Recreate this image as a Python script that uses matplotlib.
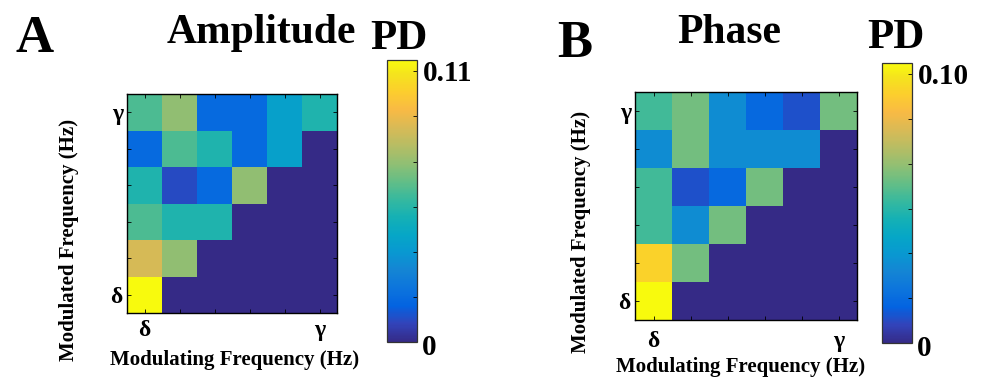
import numpy as np
import matplotlib
matplotlib.use('Agg')
import matplotlib.pyplot as plt
from matplotlib.colors import LinearSegmentedColormap

plt.rcParams['font.family'] = ['Liberation Serif', 'DejaVu Serif']
plt.rcParams['font.weight'] = 'bold'

# phase-amplitude coupling PD values
# rows: modulated frequency delta (bottom) -> gamma (top)
# cols: modulating frequency delta -> gamma
amp_max = 0.11
amp_pd = [
    [0.110, 0.000, 0.000, 0.000, 0.000, 0.000],
    [0.083, 0.070, 0.000, 0.000, 0.000, 0.000],
    [0.059, 0.051, 0.051, 0.000, 0.000, 0.000],
    [0.051, 0.009, 0.017, 0.070, 0.000, 0.000],
    [0.017, 0.059, 0.051, 0.017, 0.039, 0.000],
    [0.059, 0.070, 0.017, 0.017, 0.039, 0.051],
]

phase_max = 0.10
phase_pd = [
    [0.100, 0.000, 0.000, 0.000, 0.000, 0.000],
    [0.090, 0.059, 0.000, 0.000, 0.000, 0.000],
    [0.052, 0.028, 0.059, 0.000, 0.000, 0.000],
    [0.052, 0.009, 0.015, 0.059, 0.000, 0.000],
    [0.028, 0.059, 0.028, 0.028, 0.028, 0.000],
    [0.052, 0.059, 0.028, 0.015, 0.009, 0.059],
]

freq_labels = ['\u03b4', '', '', '', '', '\u03b3']

# parula-like colormap
parula_pts = [
    (0, (0.2081, 0.1663, 0.5292)),
    (4, (0.1959, 0.2645, 0.7279)),
    (8, (0.0117, 0.3875, 0.8820)),
    (12, (0.0498, 0.4586, 0.8641)),
    (16, (0.0793, 0.5200, 0.8312)),
    (20, (0.0343, 0.5966, 0.8199)),
    (24, (0.0228, 0.6535, 0.7768)),
    (28, (0.0843, 0.6928, 0.7062)),
    (32, (0.2178, 0.7250, 0.6193)),
    (36, (0.3953, 0.7459, 0.5244)),
    (40, (0.5709, 0.7485, 0.4494)),
    (44, (0.7184, 0.7411, 0.3905)),
    (48, (0.8507, 0.7299, 0.3360)),
    (52, (0.9739, 0.7314, 0.2666)),
    (56, (0.9880, 0.8066, 0.1794)),
    (60, (0.9588, 0.8949, 0.1132)),
    (63, (0.9763, 0.9831, 0.0538)),
]
parula = LinearSegmentedColormap.from_list('parula', [(i / 63.0, c) for i, c in parula_pts])

W, H = 984, 379
fig = plt.figure(figsize=(W / 100, H / 100), dpi=100)


def box(x0, y0, x1, y1):
    return [x0 / W, 1 - y1 / H, (x1 - x0) / W, (y1 - y0) / H]


def txt(x, y, s, **kw):
    fig.text(x / W, 1 - y / H, s, **kw)


def panel(data, vmax, ax_box, cb_box, top_label, xpad, ypad):
    ax = fig.add_axes(box(*ax_box))
    im = ax.imshow(np.array(data), origin='lower', cmap=parula, vmin=0, vmax=vmax,
                   aspect='auto', interpolation='nearest')
    n = len(data)
    ax.set_xticks(range(n))
    ax.set_yticks(range(n))
    ax.set_xticklabels(freq_labels, fontsize=17)
    ax.set_yticklabels(freq_labels, fontsize=17)
    ax.tick_params(direction='in', length=3, width=0.6, top=True, right=True)
    ax.tick_params(axis='x', pad=xpad)
    ax.tick_params(axis='y', pad=ypad)
    for s in ax.spines.values():
        s.set_linewidth(1.0)

    cax = fig.add_axes(box(*cb_box))
    cb = fig.colorbar(im, cax=cax)
    tks = np.arange(1, 7) * 0.16 * vmax
    cb.set_ticks(tks, labels=[''] * len(tks))
    cax.tick_params(direction='in', length=3, width=0.6, right=True, left=False)
    cb.outline.set_linewidth(0.9)
    cb.outline.set_edgecolor('#333333')
    cax.text(1.2, 1.0, top_label, transform=cax.transAxes, ha='left', va='top', fontsize=21)
    cax.text(1.15, -0.045, '0', transform=cax.transAxes, ha='left', va='baseline', fontsize=21)
    return ax


panel(amp_pd, amp_max, (127, 94, 337, 313), (387, 60, 417, 342), '0.11', 5, 3)
panel(phase_pd, phase_max, (635, 92, 857, 320), (882, 63, 912, 343), '0.10', 8, 3)

# panel letters and titles
txt(15, 52, 'A', fontsize=38, va='baseline', ha='left')
txt(167, 43, 'Amplitude', fontsize=30, va='baseline', ha='left')
txt(370, 49, 'PD', fontsize=31, va='baseline', ha='left')

txt(557, 57, 'B', fontsize=38, va='baseline', ha='left')
txt(677, 43, 'Phase', fontsize=30, va='baseline', ha='left')
txt(867, 48, 'PD', fontsize=31, va='baseline', ha='left')

# axis labels
txt(235, 365, 'Modulating Frequency (Hz)', fontsize=15, ha='center', va='baseline')
txt(69, 240, 'Modulated Frequency (Hz)', fontsize=15, ha='center', va='center', rotation=90)
txt(741, 372, 'Modulating Frequency (Hz)', fontsize=15, ha='center', va='baseline')
txt(581, 232, 'Modulated Frequency (Hz)', fontsize=15, ha='center', va='center', rotation=90)

fig.savefig('out.png', dpi=100)
